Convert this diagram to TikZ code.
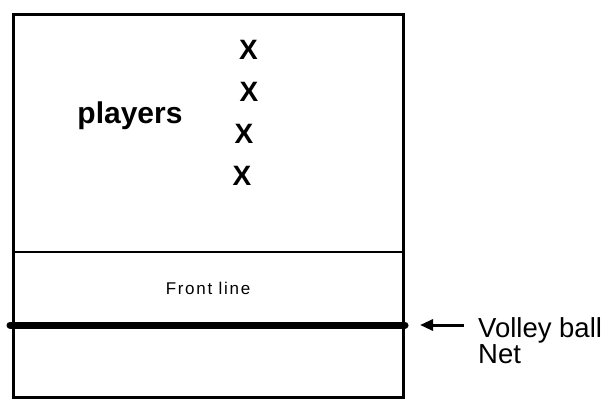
\documentclass[tikz,border=0pt]{standalone}
\usepackage{fontspec}
\setmainfont{Liberation Sans}
\usetikzlibrary{arrows.meta}
\begin{document}
\begin{tikzpicture}[x=1pt,y=-1pt,
  court/.style={line width=3pt,line cap=rect},
  divider/.style={line width=2.2pt},
  netline/.style={line width=7pt,line cap=round},
  player/.style={font=\fontsize{28}{28}\selectfont\bfseries,inner sep=0pt,anchor=base},
  lbl/.style={inner sep=0pt},
  pointer/.style={line width=3pt,-{Triangle[length=13pt,width=11pt]}}]
\useasboundingbox (0,0) rectangle (603,400);
% court outline and attack line
\draw[court] (13,14) rectangle (403,397);
\draw[divider] (13,252) -- (403,252);
% net
\draw[netline] (10,325) -- (405,325);
% labels inside the court
\node[lbl,anchor=base,font=\fontsize{30}{30}\selectfont\bfseries] (players) at (130,123) {players};
\node[player] (p1) at (248.5,59) {X};
\node[player] (p2) at (249,101) {X};
\node[player] (p3) at (244,143) {X};
\node[player] (p4) at (242,185) {X};
\node[lbl,anchor=base,font=\fontsize{17}{17}\selectfont\addfontfeature{LetterSpace=10}] (front) at (208,294) {Front line};
% net label with pointer
\node[lbl,anchor=base west,font=\fontsize{27.5}{27.5}\selectfont] (vb) at (478,337) {Volley ball};
\node[lbl,anchor=base west,font=\fontsize{27.5}{27.5}\selectfont] (net) at (478,363) {Net};
\coordinate (tail) at (464,325);
\coordinate (tip) at (420,325);
\draw[pointer] (tail) -- (tip);
\end{tikzpicture}
\end{document}
